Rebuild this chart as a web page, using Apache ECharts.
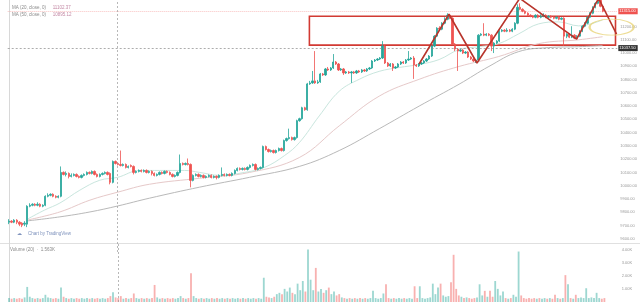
<!DOCTYPE html>
<html><head><meta charset="utf-8">
<script src="https://cdn.jsdelivr.net/npm/echarts@6/dist/echarts.min.js"></script>
<style>html,body{margin:0;padding:0;background:#fff}#c{width:640px;height:302px}</style>
</head><body><div id="c"></div>
<script>
// [open, close, low, high]
const candles = [
[9725,9732.5,9710,9747.5],[9732.5,9725,9717.5,9740],[9725,9740,9717.5,9747.5],[9740,9725,9710,9747.5],[9725,9710,9695,9732.5],
[9717.5,9702.5,9687.5,9725],[9710,9717.5,9695,9732.5],[9710,9845,9687.5,9852.5],[9845,9852.5,9837.5,9867.5],[9852.5,9860,9845,9867.5],
[9860,9852.5,9845,9867.5],[9852.5,9860,9845,9875],[9860,9845,9837.5,9867.5],[9845,9852.5,9837.5,9860],[9852.5,9920,9845,9927.5],
[9920,9927.5,9912.5,9942.5],[9927.5,9935,9920,9942.5],[9935,9920,9912.5,9942.5],[9920,9912.5,9905,9927.5],[9912.5,9920,9905,9927.5],
[9920,10100,9912.5,10145],[10100,10085,10077.5,10107.5],[10085,10092.5,10070,10107.5],[10092.5,10070,10055,10100],[10070,10077.5,10062.5,10092.5],
[10077.5,10085,10070,10092.5],[10085,10070,10062.5,10092.5],[10070,10062.5,10055,10077.5],[10062.5,10077.5,10055,10085],[10077.5,10085,10070,10092.5],
[10085,10100,10077.5,10107.5],[10100,10092.5,10085,10107.5],[10092.5,10107.5,10085,10115],[10107.5,10085,10077.5,10115],[10085,10070,10062.5,10092.5],
[10070,10085,10062.5,10092.5],[10085,10092.5,10077.5,10100],[10092.5,10100,10085,10107.5],[10100,10085,10077.5,10107.5],[10092.5,10025,10010,10100],
[10025,10182.5,10017.5,10190],[10182.5,10167.5,10160,10190],[10167.5,10160,10152.5,10175],[10160,10152.5,10145,10265],[10152.5,10160,10145,10167.5],
[10160,10137.5,10130,10167.5],[10137.5,10145,10130,10152.5],[10152.5,10145,10137.5,10160],[10145,10100,10085,10152.5],[10100,10107.5,10092.5,10115],
[10107.5,10115,10100,10122.5],[10115,10107.5,10100,10122.5],[10107.5,10115,10100,10122.5],[10115,10100,10092.5,10122.5],[10100,10107.5,10092.5,10115],
[10107.5,10092.5,10077.5,10115],[10092.5,10077.5,10070,10100],[10077.5,10085,10070,10092.5],[10085,10100,10077.5,10107.5],[10100,10092.5,10085,10107.5],
[10092.5,10107.5,10085,10115],[10107.5,10100,10092.5,10115],[10100,10085,10077.5,10107.5],[10085,10070,10062.5,10092.5],[10070,10077.5,10062.5,10085],
[10077.5,10100,10070,10107.5],[10100,10167.5,10092.5,10235],[10167.5,10160,10152.5,10175],[10160,10167.5,10152.5,10175],[10167.5,10160,10152.5,10205],
[10160,10040,9987.5,10167.5],[10040,10077.5,10032.5,10085],[10077.5,10085,10070,10092.5],[10085,10070,10062.5,10092.5],[10070,10077.5,10062.5,10085],
[10077.5,10062.5,10055,10085],[10062.5,10070,10055,10077.5],[10070,10077.5,10062.5,10085],[10077.5,10062.5,10055,10085],[10062.5,10070,10055,10077.5],
[10070,10062.5,10047.5,10077.5],[10062.5,10077.5,10055,10085],[10077.5,10085,10070,10137.5],[10085,10077.5,10070,10092.5],[10077.5,10085,10070,10092.5],
[10085,10077.5,10070,10092.5],[10077.5,10092.5,10070,10100],[10092.5,10115,10085,10122.5],[10115,10130,10107.5,10137.5],[10130,10122.5,10115,10137.5],
[10122.5,10130,10115,10137.5],[10130,10122.5,10115,10137.5],[10122.5,10137.5,10115,10145],[10137.5,10152.5,10130,10160],[10152.5,10160,10145,10167.5],
[10160,10122.5,10115,10167.5],[10122.5,10130,10115,10137.5],[10130,10137.5,10122.5,10145],[10137.5,10295,10130,10302.5],[10295,10272.5,10265,10302.5],
[10272.5,10257.5,10250,10280],[10257.5,10265,10250,10272.5],[10265,10250,10242.5,10272.5],[10250,10265,10242.5,10272.5],[10265,10280,10257.5,10287.5],
[10280,10265,10257.5,10287.5],[10265,10340,10257.5,10347.5],[10340,10355,10332.5,10362.5],[10355,10362.5,10347.5,10430],[10362.5,10347.5,10340,10370],
[10347.5,10362.5,10340,10370],[10362.5,10490,10355,10497.5],[10490,10505,10482.5,10512.5],[10505,10587.5,10497.5,10595],[10587.5,10572.5,10565,10595],
[10572.5,10767.5,10565,10775],[10767.5,10775,10760,10790],[10775,10790,10767.5,10865],[10790,10775,10767.5,11015],[10775,10782.5,10767.5,10797.5],
[10782.5,10842.5,10775,10850],[10842.5,10835,10827.5,10850],[10835,10880,10827.5,10887.5],[10880,10872.5,10865,10895],[10872.5,10887.5,10865,10895],
[10887.5,10932.5,10880,10992.5],[10932.5,10917.5,10910,10940],[10917.5,10872.5,10865,10925],[10872.5,10880,10865,10887.5],[10880,10850,10835,10887.5],
[10850,10857.5,10842.5,10865],[10857.5,10850,10842.5,10865],[10850,10857.5,10775,10865],[10857.5,10850,10842.5,10865],[10850,10865,10842.5,10872.5],
[10865,10857.5,10850,10872.5],[10857.5,10872.5,10850,10880],[10872.5,10865,10857.5,10880],[10865,10880,10857.5,10887.5],[10880,10887.5,10872.5,10895],
[10887.5,10940,10880,10947.5],[10940,10947.5,10932.5,10955],[10947.5,10955,10940,10962.5],[10955,10962.5,10947.5,10970],[10962.5,11052.5,10955,11090],
[11052.5,10925,10917.5,11060],[10925,10902.5,10895,10932.5],[10902.5,10917.5,10895,10925],[10917.5,10887.5,10865,10925],[10887.5,10895,10880,10902.5],
[10895,10917.5,10887.5,10925],[10917.5,10932.5,10910,10940],[10932.5,10925,10917.5,10940],[10925,10947.5,10917.5,10955],[10947.5,10955,10940,11015],
[10955,10962.5,10947.5,10970],[10962.5,10910,10805,10977.5],[10910,10902.5,10895,10917.5],[10902.5,10917.5,10895,10925],[10917.5,10925,10910,10932.5],
[10925,10940,10917.5,10947.5],[10940,10955,10932.5,10962.5],[10955,10977.5,10947.5,10985],[10977.5,11052.5,10970,11060],[11052.5,11127.5,11045,11135],
[11127.5,11187.5,11120,11195],[11187.5,11180,11172.5,11202.5],[11180,11225,11172.5,11232.5],[11225,11255,11217.5,11270],[11255,11285,11247.5,11300],
[11285,11262.5,11255,11292.5],[11262.5,11067.5,11060,11270],[11067.5,11030,11015,11075],[11030,11015,10865,11037.5],[11015,11022.5,11007.5,11030],
[11022.5,11000,10992.5,11030],[11000,11007.5,10992.5,11015],[11007.5,10970,10962.5,11015],[10970,10955,10947.5,10977.5],[10955,10940,10932.5,10962.5],
[10940,10947.5,10925,10955],[10947.5,11135,10940,11142.5],[11135,11142.5,11127.5,11150],[11142.5,11135,11127.5,11225],[11135,11142.5,11127.5,11150],
[11142.5,11135,11127.5,11150],[11135,11052.5,11015,11142.5],[11052.5,11075,11000,11082.5],[11075,11090,11067.5,11097.5],[11090,11165,11082.5,11172.5],
[11165,11172.5,11157.5,11180],[11172.5,11165,11157.5,11180],[11165,11172.5,11157.5,11187.5],[11172.5,11165,11157.5,11180],[11165,11180,11157.5,11187.5],
[11180,11225,11172.5,11232.5],[11225,11345,11217.5,11367.5],[11345,11330,11322.5,11375],[11330,11315,11307.5,11337.5],[11315,11300,11292.5,11322.5],
[11300,11285,11277.5,11307.5],[11285,11277.5,11270,11292.5],[11277.5,11270,11262.5,11285],[11270,11285,11262.5,11292.5],[11285,11270,11262.5,11292.5],
[11270,11277.5,11262.5,11292.5],[11277.5,11285,11270,11300],[11285,11270,11262.5,11292.5],[11270,11277.5,11262.5,11285],[11277.5,11270,11262.5,11285],
[11270,11262.5,11255,11277.5],[11262.5,11270,11255,11277.5],[11270,11255,11247.5,11277.5],[11255,11262.5,11247.5,11270],[11262.5,11127.5,11052.5,11270],
[11127.5,11142.5,11112.5,11150],[11142.5,11120,11112.5,11150],[11120,11135,11112.5,11202.5],[11135,11112.5,11105,11142.5],[11112.5,11127.5,11105,11135],
[11127.5,11165,11120,11172.5],[11165,11202.5,11157.5,11210],[11202.5,11225,11195,11232.5],[11225,11270,11217.5,11277.5],[11270,11300,11262.5,11307.5],
[11300,11345,11292.5,11352.5],[11345,11375,11337.5,11382.5],[11375,11397.5,11367.5,11397.5],[11397.5,11352.5,11345,11397.5],[11352.5,11315,11307.5,11360]
];
// volume in thousands
const volumes = [
0.3,0.25,0.3,0.25,0.3,0.25,0.35,1.15,0.4,0.3, 0.25,0.3,0.25,0.3,0.55,0.35,0.3,0.25,0.3,0.25,
1.1,0.4,0.3,0.25,0.3,0.25,0.3,0.25,0.3,0.25, 0.3,0.25,0.3,0.25,0.3,0.25,0.3,0.25,0.3,0.45,
0.75,0.35,0.3,0.45,0.25,0.3,0.25,0.3,0.65,0.3, 0.25,0.3,0.25,0.3,0.25,0.3,1.3,0.35,0.25,0.3,
0.25,0.3,0.25,0.3,0.25,0.3,0.45,0.3,0.25,0.3, 2.2,0.45,0.3,0.25,0.3,0.25,0.3,0.25,0.3,0.25,
0.3,0.25,0.3,0.25,0.3,0.25,0.3,0.25,0.3,0.25, 0.3,0.25,0.3,0.25,0.3,0.25,0.3,0.25,1.85,0.4,
0.35,0.3,0.4,0.6,0.7,0.6,1.0,0.8,1.1,0.7, 0.6,1.4,0.9,1.6,0.8,4.0,1.7,0.9,2.6,0.8,
1.0,0.7,0.9,1.1,0.6,0.8,0.5,0.6,0.35,0.3, 0.25,0.3,0.25,0.3,0.25,0.3,0.25,0.3,0.25,0.3,
0.85,0.3,0.25,0.3,0.65,1.35,0.3,0.25,0.3,0.25, 0.3,0.25,0.3,0.25,0.3,0.25,1.2,0.3,1.2,0.3,
0.25,0.3,0.35,1.4,0.6,1.1,1.4,0.5,0.4,0.45, 1.5,3.6,1.0,0.5,0.4,0.3,0.35,0.3,0.25,0.3,
0.35,1.35,0.5,0.85,0.4,0.85,0.4,1.6,1.0,0.5, 0.8,0.3,0.25,0.3,0.55,0.4,3.85,0.5,0.3,0.25,
0.3,0.25,0.3,0.25,0.3,0.25,0.3,0.25,0.3,0.25, 0.55,0.3,0.25,0.3,2.05,1.35,0.3,0.25,0.55,0.3,
0.35,0.3,1.05,0.3,0.35,0.3,0.7,0.3,0.25,0.3
];
// moving averages: [bar index, price]
const maFast = [[7.3,9750],[13.8,9817],[19.6,9869],[27.3,9966],[35,10041],[41.9,10063],[50.4,10115],[58.1,10115],[67.7,10115],[73.5,10100],[81.2,10078],[90.8,10100],[98.5,10138],[106.2,10227],[111.9,10324],[119.6,10526],[127.3,10712],[135,10802],[142.7,10862],[150.4,10891],[158.1,10914],[165.8,10951],[173.5,11026],[181.2,11048],[188.8,11071],[196.5,11145],[204.2,11220],[211.9,11235],[219.6,11205],[228.8,11250]];
const maMid = [[7.3,9742],[19.6,9802],[31.2,9891],[41.9,9951],[54.2,10011],[73.5,10056],[92.7,10100],[111.9,10212],[127.3,10451],[142.7,10675],[158.1,10802],[173.5,10899],[188.8,10974],[204.2,11071],[219.6,11100],[228.8,11123]];
const maSlow = [[7.3,9735],[19.6,9765],[31.2,9802],[41.9,9847],[54.2,9906],[73.5,9989],[92.7,10063],[111.9,10145],[127.3,10265],[142.7,10429],[158.1,10600],[173.5,10765],[185,10899],[196.5,11011],[208,11041],[219.6,11048],[228.8,11056]];
// hand-drawn annotations: [bar index, price]
const zigzag = [[158.1,10917.5],[169.6,11292.5],[180.4,10925],[196.9,11412.5],[218.8,11105],[227.3,11412.5],[234.2,11142.5]];
const boxCorners = [[115.8,11277.5],[233.8,11060]];
const ellipseCenter = [232.3,11195];
const crosshair = {bar: 41.9, price: 11037.5};
const priceTicks = {min: 9500, max: 11400, step: 100};
const volTicks = {min: 0, max: 4.5, step: 1};
const legendNames = ['MA (20, close, 0)', 'MA (50, close, 0)'];
const legendValues = ['11102.37', '10895.12'];

const N = 235;
const cats = Array.from({length: N}, (_, i) => String(i));
const UP = '#26a69a', DOWN = '#ef5350';
const volData = volumes.map((v, i) => ({value: v, itemStyle: {color: candles[i][1] >= candles[i][0] ? 'rgba(38,166,154,0.45)' : 'rgba(239,83,80,0.45)'}}));
const lastClose = candles[candles.length - 1][1];

const chart = echarts.init(document.getElementById('c'));
const gridLeft = 7.7, gridW = 611;
chart.setOption({
  animation: false,
  backgroundColor: '#ffffff',
  grid: [
    {left: gridLeft, width: gridW, top: -1.333, height: 253.333},
    {left: gridLeft, width: gridW, top: 243, height: 63}
  ],
  xAxis: [
    {type: 'category', gridIndex: 0, data: cats, show: false, boundaryGap: true},
    {type: 'category', gridIndex: 1, data: cats, show: false, boundaryGap: true},
    {type: 'value', gridIndex: 0, min: -0.5, max: N - 0.5, show: false},
    {type: 'value', gridIndex: 1, min: -0.5, max: N - 0.5, show: false}
  ],
  yAxis: [
    {type: 'value', gridIndex: 0, position: 'right', min: priceTicks.min, max: priceTicks.max, interval: priceTicks.step,
      axisLine: {show: true, lineStyle: {color: '#d8d8d8'}}, axisTick: {show: false}, splitLine: {show: false},
      axisLabel: {color: '#9a9a9a', fontSize: 4, margin: 3, fontFamily: 'Arial, Liberation Sans', showMinLabel: false, showMaxLabel: false,
        formatter: v => v.toFixed(2)}},
    {type: 'value', gridIndex: 1, position: 'right', min: volTicks.min, max: volTicks.max, interval: volTicks.step,
      axisLine: {show: true, lineStyle: {color: '#d8d8d8'}}, axisTick: {show: false}, splitLine: {show: false},
      axisLabel: {color: '#9a9a9a', fontSize: 4, margin: 3, fontFamily: 'Arial, Liberation Sans', showMinLabel: false, showMaxLabel: false,
        formatter: v => v.toFixed(2) + 'K'}}
  ],
  series: [
    {type: 'line', xAxisIndex: 2, yAxisIndex: 0, data: maSlow, smooth: 0.4, symbol: 'none', lineStyle: {color: '#b9b9b9', width: 1}, z: 1},
    {type: 'line', xAxisIndex: 2, yAxisIndex: 0, data: maMid, smooth: 0.4, symbol: 'none', lineStyle: {color: '#e6c9c9', width: 1}, z: 1},
    {type: 'line', xAxisIndex: 2, yAxisIndex: 0, data: maFast, smooth: 0.4, symbol: 'none', lineStyle: {color: '#c9e6de', width: 1}, z: 1},
    {type: 'candlestick', xAxisIndex: 0, yAxisIndex: 0, data: candles, barWidth: '70%', z: 3,
      itemStyle: {color: UP, color0: DOWN, borderColor: UP, borderColor0: DOWN, borderWidth: 0.8},
      markLine: {silent: true, symbol: 'none', animation: false,
        data: [
          {yAxis: lastClose, lineStyle: {color: 'rgba(239,83,80,0.35)', type: [1, 1], width: 1},
            label: {show: true, position: 'end', distance: 1, formatter: lastClose.toFixed(2), color: '#fff', backgroundColor: DOWN, fontSize: 4, padding: [1, 2, 1, 1], fontFamily: 'Arial'}},
          {yAxis: crosshair.price, lineStyle: {color: '#8a8a8a', type: [2, 2], width: 0.7},
            label: {show: true, position: 'end', distance: 1, formatter: crosshair.price.toFixed(2), color: '#fff', backgroundColor: '#333', fontSize: 4, padding: [1, 2, 1, 1], fontFamily: 'Arial'}}
        ]}},
    {type: 'line', xAxisIndex: 2, yAxisIndex: 0, data: zigzag, symbol: 'none', z: 5,
      lineStyle: {color: '#b8352c', width: 1.6},
      markArea: {silent: true, itemStyle: {color: 'rgba(0,0,0,0)', borderColor: '#d23a33', borderWidth: 1.6},
        data: [[{coord: boxCorners[0]}, {coord: boxCorners[1]}]]},
      markLine: {silent: true, symbol: 'none', label: {show: false},
        data: [{xAxis: crosshair.bar, lineStyle: {color: '#9a9a9a', type: [2, 2], width: 0.7}}]}},
    {type: 'scatter', xAxisIndex: 2, yAxisIndex: 0, data: [ellipseCenter], symbol: 'circle', symbolSize: [44, 16], clip: false, z: 6,
      itemStyle: {color: 'rgba(0,0,0,0)', borderColor: '#e8d47a', borderWidth: 1.4}},
    {type: 'bar', xAxisIndex: 1, yAxisIndex: 1, data: volData, barWidth: '70%', z: 2,
      markLine: {silent: true, symbol: 'none', label: {show: false},
        data: [{xAxis: Math.round(crosshair.bar), lineStyle: {color: '#9a9a9a', type: [2, 2], width: 0.7}}]}}
  ],
  graphic: [
    {type: 'line', shape: {x1: 0, y1: 243.5, x2: 640, y2: 243.5}, style: {stroke: '#e0e0e0', lineWidth: 1}, z: 0},
    {type: 'text', left: 12, top: 2, style: {rich: {n: {fill: '#8a8a8a', fontSize: 4.5}, v: {fill: '#c48aa6', fontSize: 4.5}}, text: '{n|' + legendNames[0] + '}  {v|' + legendValues[0] + '}', fontFamily: 'Arial'}},
    {type: 'text', left: 12, top: 9, style: {rich: {n: {fill: '#8a8a8a', fontSize: 4.5}, v: {fill: '#c48aa6', fontSize: 4.5}}, text: '{n|' + legendNames[1] + '}  {v|' + legendValues[1] + '}', fontFamily: 'Arial'}},
    {type: 'text', left: 28, top: 231, style: {text: 'Chart by TradingView', fill: '#7f93bd', fontSize: 4.5, fontFamily: 'Arial'}},
    {type: 'text', left: 17, top: 231, style: {text: '☁', fill: '#7f93bd', fontSize: 5}},
    {type: 'text', left: 10, top: 247, style: {text: 'Volume (20)  ·  1.563K', fill: '#8a8a8a', fontSize: 4.5, fontFamily: 'Arial'}}
  ]
});
</script></body></html>
